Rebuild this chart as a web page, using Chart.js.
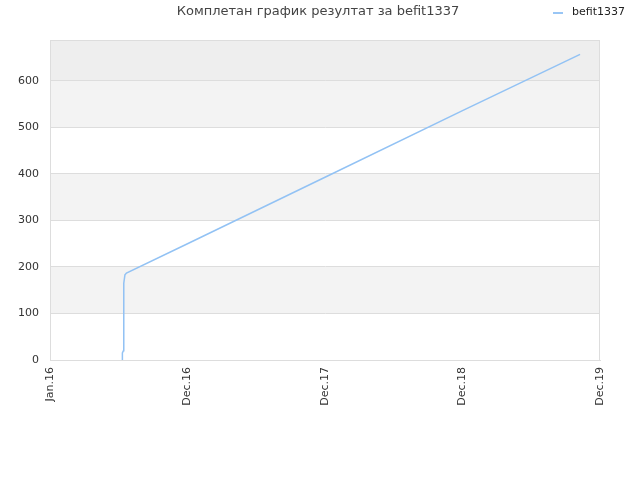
<!DOCTYPE html>
<html>
<head>
<meta charset="utf-8">
<script src="https://cdn.jsdelivr.net/npm/chart.js@4/dist/chart.umd.min.js"></script>
<style>
  html, body { margin: 0; padding: 0; background: #fff; }
  #wrap { width: 640px; height: 480px; }
</style>
</head>
<body>
<div id="wrap"><canvas id="chart" width="640" height="480"></canvas></div>
<script>
// Naslov i legenda
const chartTitle = 'Комплетан график резултат за befit1337';
const seriesName = 'befit1337';

// X osa: indeks oznake (0..4)
const xTickLabels = ['Jan.16', 'Dec.16', 'Dec.17', 'Dec.18', 'Dec.19'];
const yTicks = [0, 100, 200, 300, 400, 500, 600];

// Tačke serije (x u jedinicama oznaka, y rezultat)
const seriesX = [0.524, 0.526, 0.527, 0.534, 0.535, 0.538, 0.545, 0.556, 1.0, 2.0, 3.0, 3.855];
const seriesY = [0, 10, 15, 20, 150, 165, 183, 187, 250, 393, 536, 657];

// pozadinske trake po y intervalima
const bandsPlugin = {
  id: 'bands',
  beforeDraw(chart) {
    const { ctx, chartArea: a, scales } = chart;
    const y = scales.y;
    const bands = [[100, 200, '#f3f3f3'], [300, 400, '#f3f3f3'], [500, 600, '#f3f3f3'], [600, y.max, '#eeeeee']];
    ctx.save();
    bands.forEach(function (b) {
      const top = y.getPixelForValue(b[1]);
      const bottom = y.getPixelForValue(b[0]);
      ctx.fillStyle = b[2];
      ctx.fillRect(a.left, top, a.right - a.left, bottom - top);
    });
    ctx.restore();
  },
  afterDraw(chart) {
    const ctx = chart.ctx;
    ctx.save();
    // naslov
    ctx.font = '13px "DejaVu Sans", sans-serif';
    ctx.fillStyle = '#444';
    ctx.textAlign = 'center';
    ctx.textBaseline = 'middle';
    ctx.fillText(chartTitle, 318, 12);
    // legenda
    ctx.strokeStyle = '#99c6f5';
    ctx.lineWidth = 2;
    ctx.beginPath();
    ctx.moveTo(553, 13);
    ctx.lineTo(563, 13);
    ctx.stroke();
    ctx.font = '11px "DejaVu Sans", sans-serif';
    ctx.fillStyle = '#222';
    ctx.textAlign = 'left';
    ctx.fillText(seriesName, 572, 12);
    ctx.restore();
  }
};

const points = seriesX.map(function (x, i) { return { x: x, y: seriesY[i] }; });

new Chart(document.getElementById('chart'), {
  type: 'line',
  data: {
    datasets: [{
      label: seriesName,
      data: points,
      borderColor: '#92c2f4',
      borderWidth: 1.5,
      pointRadius: 0,
      tension: 0,
      fill: false
    }]
  },
  options: {
    responsive: false,
    animation: false,
    layout: { padding: { top: 40, right: 40, left: 0, bottom: 0 } },
    plugins: {
      legend: { display: false },
      title: { display: false },
      tooltip: { enabled: false }
    },
    scales: {
      x: {
        type: 'linear',
        min: 0,
        max: 4,
        afterBuildTicks: function (s) { s.ticks = xTickLabels.map(function (_, i) { return { value: i }; }); },
        afterFit: function (s) { s.height = 120; },
        grid: { display: false, drawTicks: false },
        border: { color: '#dddddd' },
        ticks: {
          maxRotation: 90,
          minRotation: 90,
          padding: 7,
          color: '#333',
          font: { family: '"DejaVu Sans", sans-serif', size: 11 },
          callback: function (v) { return xTickLabels[v]; }
        }
      },
      y: {
        min: 0,
        max: 688,
        afterBuildTicks: function (s) { s.ticks = yTicks.map(function (v) { return { value: v }; }); },
        afterFit: function (s) { s.width = 50; },
        grid: { color: '#dddddd', drawTicks: false },
        border: { color: '#dddddd' },
        ticks: {
          padding: 11,
          color: '#333',
          font: { family: '"DejaVu Sans", sans-serif', size: 11 }
        }
      }
    }
  },
  plugins: [bandsPlugin, {
    id: 'frame',
    afterDatasetsDraw(chart) {
      const { ctx, chartArea: a } = chart;
      ctx.save();
      ctx.strokeStyle = '#dddddd';
      ctx.lineWidth = 1;
      ctx.strokeRect(a.left + 0.5, a.top + 0.5, a.right - a.left - 1, a.bottom - a.top);
      ctx.restore();
    }
  }]
});
</script>
</body>
</html>
